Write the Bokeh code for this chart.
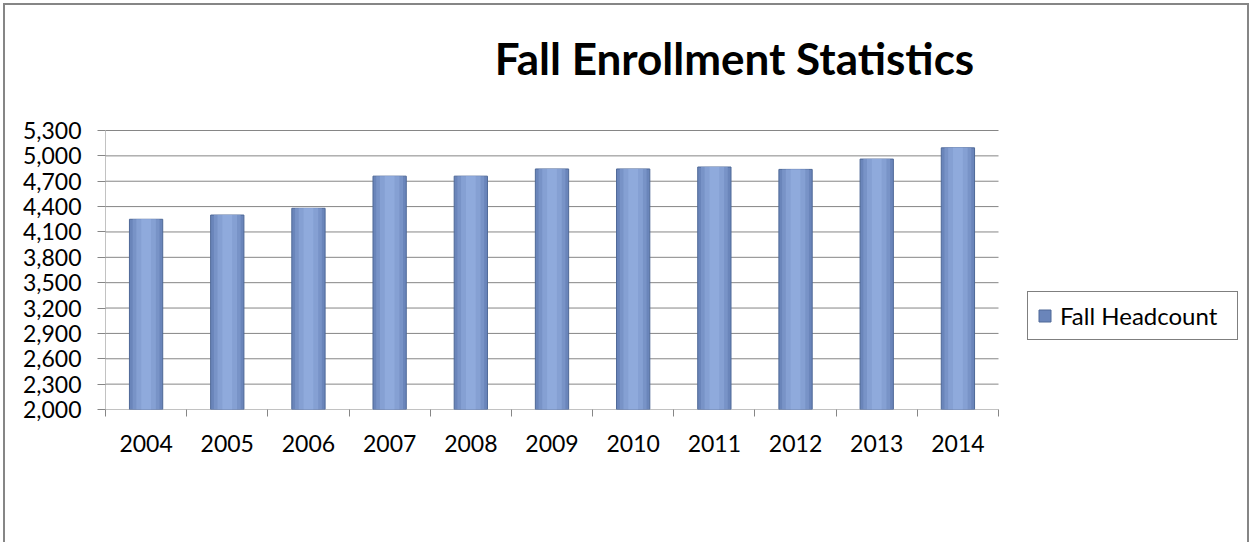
from bokeh.plotting import figure
from bokeh.models import (Range1d, FixedTicker, LinearAxis, NumeralTickFormatter,
                          Label, Legend, LegendItem, ColumnDataSource)
from bokeh.embed import file_html
from bokeh.resources import INLINE

years = ["2004", "2005", "2006", "2007", "2008", "2009", "2010", "2011", "2012", "2013", "2014"]
headcount = [4250, 4300, 4380, 4760, 4760, 4845, 4845, 4868, 4840, 4962, 5095]
y_ticks = [2000, 2300, 2600, 2900, 3200, 3500, 3800, 4100, 4400, 4700, 5000, 5300]
title_text = "Fall Enrollment Statistics"
series_name = "Fall Headcount"

FONT = "Lato"
GRID = "#868686"

# layout (pixels)
W, H = 1246, 539
LEFT, BOTTOM = 100, 135
PLOT_W, PLOT_H = 893, 279          # size of the data area (years x 2000..5300)
frame_w, frame_h = W - LEFT, H - BOTTOM

n = len(years)
pos = list(range(1, n + 1))
ymin, ymax = y_ticks[0], y_ticks[-1]
x_end = 0.5 + n * frame_w / PLOT_W
y_end = ymin + (ymax - ymin) * frame_h / PLOT_H

src = ColumnDataSource(dict(x=pos, top=headcount, year=years))
grid_src = ColumnDataSource(dict(y=y_ticks, x0=[0.5] * len(y_ticks), x1=[n + 0.5] * len(y_ticks)))

p = figure(x_range=Range1d(0.5, x_end), y_range=Range1d(ymin, y_end), width=W, height=H,
           output_backend="svg", toolbar_location=None, x_axis_location=None,
           y_axis_location=None,
           min_border_left=LEFT, min_border_right=0, min_border_top=0, min_border_bottom=BOTTOM)
p.styles = {"border-left": "2px solid #868686", "border-top": "2px solid #868686",
            "border-right": "2px solid #868686", "margin-left": "3px", "margin-top": "3px"}
p.outline_line_color = None
p.background_fill_color = "white"
p.border_fill_color = "white"
p.xgrid.grid_line_color = None
p.ygrid.grid_line_color = None

# gridlines and axis line over the data area only
p.segment(x0="x0", x1="x1", y0="y", y1="y", source=grid_src, line_color=GRID, line_width=1)
p.segment(x0=[0.5], x1=[0.5], y0=[ymin], y1=[ymax], line_color=GRID, line_width=1)

# y axis
yax = LinearAxis(ticker=FixedTicker(ticks=y_ticks), formatter=NumeralTickFormatter(format="0,0"))
yax.axis_line_color = None
yax.major_tick_line_color = GRID
yax.major_tick_out = 8
yax.major_tick_in = 0
yax.minor_tick_line_color = None
yax.major_label_standoff = 16
yax.major_label_text_font = FONT
yax.major_label_text_font_size = "23px"
yax.major_label_text_color = "black"
p.add_layout(yax, "left")

# x edge ticks (between categories)
eax = LinearAxis(ticker=FixedTicker(ticks=[i + 0.5 for i in range(n + 1)]))
eax.axis_line_color = None
eax.major_tick_line_color = GRID
eax.major_tick_out = 7
eax.major_tick_in = 0
eax.minor_tick_line_color = None
eax.major_label_text_font_size = "0px"
eax.major_label_standoff = 0
p.add_layout(eax, "below")

# category labels
cax = LinearAxis(ticker=FixedTicker(ticks=pos),
                 major_label_overrides={i: y for i, y in zip(pos, years)})
cax.axis_line_color = None
cax.major_tick_line_color = None
cax.minor_tick_line_color = None
cax.major_label_standoff = 12
cax.major_label_text_font = FONT
cax.major_label_text_font_size = "23px"
cax.major_label_text_color = "black"
p.add_layout(cax, "below")

# bars (layered to mimic the gradient fill)
r0 = p.vbar(x="x", top="top", bottom=ymin, width=0.41, source=src, fill_color="#6A85BA",
            line_color="#4E6897", line_width=1)
p.vbar(x="x", top="top", bottom=ymin, width=0.33, source=src, fill_color="#7893C7", line_color=None)
p.vbar(x="x", top="top", bottom=ymin, width=0.24, source=src, fill_color="#85A0D3", line_color=None)
p.vbar(x="x", top="top", bottom=ymin, width=0.12, source=src, fill_color="#8FAADC", line_color=None)

p.add_layout(Label(x=629, y=352, x_units="screen", y_units="screen", text=title_text,
                   text_font=FONT, text_font_style="bold", text_font_size="44px",
                   text_align="center", text_baseline="alphabetic", text_color="black"))

legend = Legend(items=[LegendItem(label=series_name, renderers=[r0])], location=(922, 69))
legend.label_text_font = FONT
legend.label_text_font_size = "24px"
legend.label_text_color = "black"
legend.glyph_width = 15
legend.glyph_height = 15
legend.label_standoff = 8
legend.label_width = 168
legend.padding = 9
legend.margin = 0
legend.border_line_color = "black"
legend.border_line_width = 1.5
legend.background_fill_alpha = 1
p.add_layout(legend, "center")

open("out.html", "w").write(file_html(p, INLINE))
